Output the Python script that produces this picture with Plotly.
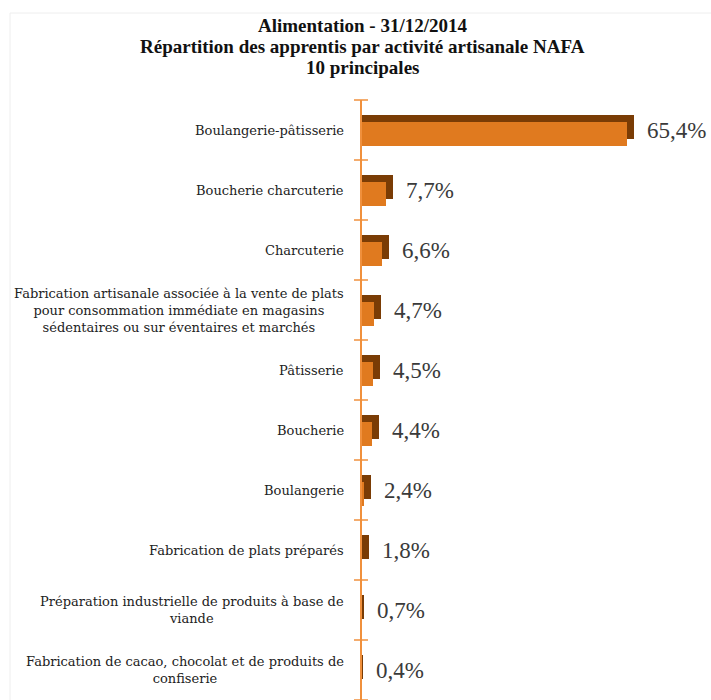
import plotly.graph_objects as go

# Top 10 NAFA craft activities (food sector), share of apprentices at 31/12/2014
categories = [
    "Boulangerie-pâtisserie",
    "Boucherie charcuterie",
    "Charcuterie",
    "Fabrication artisanale associée à la vente de plats<br>pour consommation immédiate en magasins<br>sédentaires ou sur éventaires et marchés",
    "Pâtisserie",
    "Boucherie",
    "Boulangerie",
    "Fabrication de plats préparés",
    "Préparation industrielle de produits à base de<br>viande",
    "Fabrication de cacao, chocolat et de produits de<br>confiserie",
]
shares = [65.4, 7.7, 6.6, 4.7, 4.5, 4.4, 2.4, 1.8, 0.7, 0.4]
value_labels = ["65,4%", "7,7%", "6,6%", "4,7%", "4,5%", "4,4%", "2,4%", "1,8%", "0,7%", "0,4%"]
title_lines = [
    "Alimentation - 31/12/2014",
    "Répartition des apprentis par activité artisanale NAFA",
    "10 principales",
]

ORANGE = "#E07A1F"
DARK = "#7A3C05"
AXIS = "#F0903C"
SERIF = "Liberation Serif, Times New Roman, serif"
LABEL_FONT = "DejaVu Serif, serif"

W, H = 711, 700
M_L, M_T = 356, 100          # plot area starts a few px left of the category axis
PX_PER_UNIT = 4.17           # horizontal scale, px per %
X_MIN = -5 / PX_PER_UNIT
X_MAX = X_MIN + (W - M_L) / PX_PER_UNIT
DEPTH = 1.68                 # 3D depth of the bars, in % units

pos = list(range(len(categories)))
boundaries = [p - 0.5 for p in pos] + [len(pos) - 0.5]

# back face of the pseudo-3D bars (full length, shifted up)
back = go.Bar(
    x=shares, y=pos, orientation="h",
    width=0.4, offset=-0.25,
    marker=dict(color=DARK, line=dict(width=0)),
    hoverinfo="skip", showlegend=False,
)
# front face (shortened by the depth, shifted down)
front = go.Bar(
    x=[max(v - DEPTH, 0) for v in shares], y=pos, orientation="h",
    width=0.4, offset=-0.133,
    marker=dict(color=ORANGE, line=dict(width=0)),
    hoverinfo="skip", showlegend=False,
)
# vertical category axis with ticks crossing it at the category boundaries
axis_line = go.Scatter(
    x=[0, 0], y=[boundaries[0], boundaries[-1]], mode="lines",
    line=dict(color=AXIS, width=2),
    hoverinfo="skip", showlegend=False,
)
axis_ticks = go.Scatter(
    x=[0] * len(boundaries), y=boundaries, mode="markers",
    marker=dict(symbol="line-ew", size=10, line=dict(color=AXIS, width=1.5)),
    cliponaxis=False, hoverinfo="skip", showlegend=False,
)

fig = go.Figure([back, front, axis_line, axis_ticks])

plot_w = W - M_L
plot_h = H - M_T
title_center_px = 362
annotations = []
for line, y_px in zip(title_lines, [25.5, 46.5, 67.5]):
    annotations.append(dict(
        x=(title_center_px - M_L) / plot_w, xref="paper",
        y=1 + (M_T - y_px) / plot_h, yref="paper",
        text="<b>" + line + "</b>",
        xanchor="center", yanchor="middle", showarrow=False,
        font=dict(family=SERIF, size=19, color="#111111"),
    ))
for p, cat in zip(pos, categories):
    annotations.append(dict(
        x=0, xref="x", y=p, yref="y", text=cat,
        xanchor="right", yanchor="middle", align="center",
        xshift=-15, showarrow=False,
        font=dict(family=LABEL_FONT, size=13, color="#222222"),
    ))
for p, v, lab in zip(pos, shares, value_labels):
    annotations.append(dict(
        x=v, xref="x", y=p, yref="y", text=lab,
        xanchor="left", yanchor="middle", xshift=11, showarrow=False,
        font=dict(family=SERIF, size=23, color="#3a3a3a"),
    ))

# faint chart-area frame
frame_x0 = (10 - M_L) / plot_w
frame_y1 = 1 + (M_T - 13) / plot_h

fig.update_layout(
    width=W, height=H,
    margin=dict(l=M_L, r=0, t=M_T, b=0),
    paper_bgcolor="white", plot_bgcolor="white",
    barmode="overlay", bargap=0,
    xaxis=dict(range=[X_MIN, X_MAX], visible=False, fixedrange=True),
    yaxis=dict(range=[len(pos) - 0.5, -0.5], visible=False, fixedrange=True),
    annotations=annotations,
    shapes=[dict(type="rect", xref="paper", yref="paper",
                 x0=frame_x0, x1=1.2, y0=-0.2, y1=frame_y1,
                 line=dict(color="#EEEEEE", width=1), layer="below")],
)

fig.write_html("out.html")
